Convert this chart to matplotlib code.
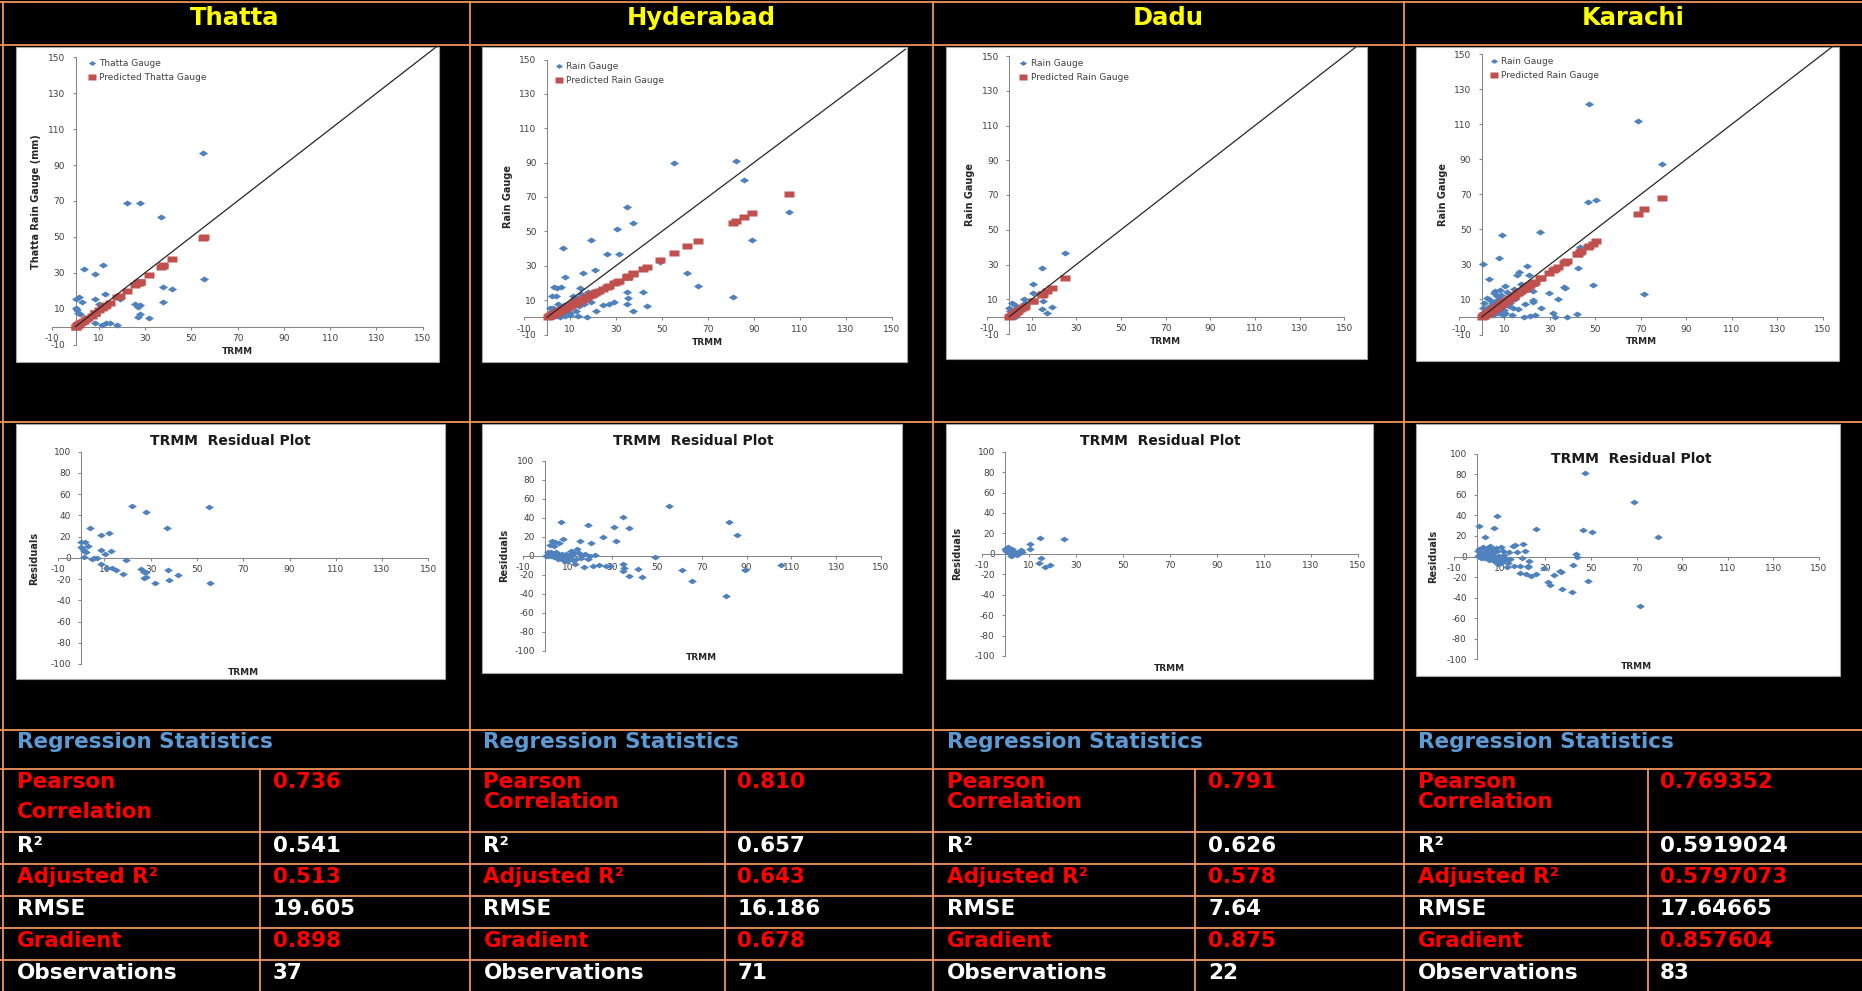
import matplotlib
matplotlib.use('Agg')
import matplotlib.pyplot as plt
from matplotlib.lines import Line2D
from matplotlib.patches import Rectangle

plt.rcParams['font.family'] = 'DejaVu Sans'
plt.rcParams['axes.unicode_minus'] = False

# ---- data ----
stations = ['Thatta', 'Hyderabad', 'Dadu', 'Karachi']
gauge_names = ['Thatta Gauge', 'Rain Gauge', 'Rain Gauge', 'Rain Gauge']
ylabels = ['Thatta Rain Gauge (mm)', 'Rain Gauge', 'Rain Gauge', 'Rain Gauge']

trmm_thatta = [55.0, 22.1, 27.9, 36.9, 3.7, 12.0, 8.6, 55.5, 37.6, 41.7, 12.7, 0.0, 1.4, 8.4, 2.7,
               38.0, 25.7, 27.9, 27.2, 0.0, 0.8, 1.2, 2.0, 27.9, 27.2, 31.9, 8.6, 11.3, 13.2, 14.9,
               18.1, 19.3, 10.2, 1.2, 4.5, 6.9, 5.5]
gauge_thatta = [96.9, 68.9, 68.7, 60.9, 31.9, 34.2, 29.3, 26.4, 21.9, 21.2, 18.2, 15.2, 16.3, 15.2, 13.7,
                13.7, 12.4, 11.9, 11.1, 10.6, 9.3, 7.8, 7.1, 7.1, 5.4, 4.8, 1.9, 0.9, 2.2, 1.9,
                1.1, 15.4, 12.5, 2.0, 3.0, 6.2, 5.0]

trmm_hyderabad = [55.3, 82.3, 85.7, 105.5, 89.2, 35.0, 37.6, 30.6, 19.3, 7.1, 26.0, 31.5, 20.7, 15.8, 61.1,
                  8.0, 3.0, 6.2, 4.5, 14.4, 65.7, 80.8, 49.0, 35.0, 35.3, 35.0, 41.6, 43.4, 37.3, 24.2,
                  27.1, 29.2, 21.3, 17.6, 2.2, 3.9, 11.5, 12.6, 10.0, 13.6, 5.7, 8.0, 1.3, 1.9, 2.5,
                  11.5, 19.3, 0.5, 1.0, 1.5, 2.8, 3.5, 4.2, 5.0, 6.0, 6.8, 7.5, 8.5, 9.2, 10.5,
                  12.0, 13.0, 14.0, 15.0, 16.5, 18.0, 20.0, 22.5, 16.0, 9.8, 4.8]
gauge_hyderabad = [90.0, 90.8, 79.9, 61.5, 45.0, 64.4, 55.1, 51.2, 45.0, 40.1, 36.8, 36.8, 27.5, 26.0, 26.0,
                   23.3, 17.8, 17.8, 17.1, 17.1, 18.2, 12.0, 32.0, 14.7, 11.4, 7.6, 14.7, 6.6, 3.7, 7.0,
                   8.0, 8.7, 3.9, 0.4, 12.4, 12.4, 12.4, 3.9, 1.4, 0.8, 0.4, 0.8, 5.2, 3.3, 5.2,
                   10.0, 9.2, 0.5, 1.5, 0.2, 2.0, 4.0, 1.0, 3.0, 5.5, 2.5, 7.0, 4.5, 8.0, 6.0,
                   8.5, 11.5, 6.5, 13.5, 12.0, 14.5, 13.0, 16.0, 8.0, 2.5, 7.5]

trmm_dadu = [25.1, 14.8, 10.6, 10.6, 15.2, 6.6, 19.1, 14.5, 17.0, 1.2, 0.3, 1.5, 2.0, 2.7, 2.6,
             3.5, 4.0, 5.0, 5.5, 7.0, 3.0, 0.0]
gauge_dadu = [36.8, 28.0, 18.8, 13.8, 9.2, 10.0, 5.8, 4.2, 2.3, 8.1, 3.0, 2.5, 4.0, 6.7, 0.0,
              1.5, 5.0, 3.5, 6.0, 8.0, 3.0, 4.8]

trmm_karachi = [47.4, 68.8, 79.5, 46.6, 50.4, 25.7, 8.8, 7.5, 0.7, 20.1, 16.6, 15.7, 21.0, 3.4, 43.3,
                43.7, 42.2, 48.8, 36.2, 36.7, 71.6, 29.5, 33.6, 22.7, 22.4, 22.4, 18.9, 26.0, 13.6, 16.1,
                13.3, 18.6, 21.3, 23.5, 31.2, 32.1, 37.4, 41.8, 10.4, 8.1, 0.4, 3.7, 5.4, 6.6, 8.8,
                10.4, 19.5, 11.8, 0.2, 0.8, 1.2, 1.5, 2.0, 2.3, 2.8, 3.0, 3.5, 4.0, 4.3, 4.8,
                5.0, 5.5, 6.0, 6.2, 6.8, 7.2, 7.5, 8.0, 8.5, 9.0, 9.5, 10.0, 10.8, 11.2, 12.0,
                12.5, 14.0, 14.5, 17.5, 1.0, 2.5, 5.8, 9.2]
gauge_karachi = [121.5, 111.9, 87.3, 65.6, 66.8, 48.5, 46.6, 33.9, 30.2, 29.3, 25.5, 23.8, 23.8, 21.5, 39.8,
                 36.7, 28.2, 18.1, 17.3, 16.5, 13.3, 13.9, 10.5, 15.0, 9.7, 8.8, 7.4, 4.9, 4.9, 4.4,
                 1.0, 0.2, 0.8, 1.3, 2.1, 0.2, 0.2, 1.7, 17.7, 15.4, 5.3, 9.7, 13.5, 12.0, 3.0,
                 2.5, 15.6, 11.6, 0.5, 1.5, 3.0, 0.3, 2.0, 5.0, 1.0, 3.5, 6.5, 2.5, 4.5, 8.0,
                 1.2, 5.5, 3.0, 9.0, 6.0, 2.0, 10.5, 7.0, 12.5, 5.5, 9.0, 4.0, 8.5, 14.5, 6.5,
                 8.0, 16.0, 10.0, 19.0, 8.0, 11.0, 15.0, 1.0]

trmm = [trmm_thatta, trmm_hyderabad, trmm_dadu, trmm_karachi]
gauge = [gauge_thatta, gauge_hyderabad, gauge_dadu, gauge_karachi]

# regression statistics table
pearson = ['0.736', '0.810', '0.791', '0.769352']
r_squared = ['0.541', '0.657', '0.626', '0.5919024']
adj_r_squared = ['0.513', '0.643', '0.578', '0.5797073']
rmse = ['19.605', '16.186', '7.64', '17.64665']
gradient = ['0.898', '0.678', '0.875', '0.857604']
observations = ['37', '71', '22', '83']

scatter_ticks = [-10, 10, 30, 50, 70, 90, 110, 130, 150]
resid_yticks = [-100, -80, -60, -40, -20, 0, 20, 40, 60, 80, 100]
one_to_one = [0, 156]

# ---- layout, in pixels of the 1862x991 picture ----
W, H = 1862, 991
col_left = [0, 470, 933, 1404]
col_centre = [235, 701.5, 1168.5, 1633]
label_x = [16.6, 483.4, 946.6, 1417.5]
value_x = [272.8, 737.2, 1208.2, 1660]
inner_x = [259.8, 724.8, 1195.2, 1647.6]

scatter_px = [(52.4, 422.7, 57.4, 344.6), (524.0, 891.7, 59.5, 334.5),
              (987.0, 1344.3, 56.0, 334.0), (1459.0, 1822.6, 54.2, 334.5)]
scatter_box = [(15.7, 46.7, 439.3, 362.3), (482.3, 46.7, 907.3, 362.3),
               (945.7, 46.7, 1367.3, 359.0), (1415.7, 46.7, 1839.3, 361.0)]
scatter_ylab = [(36, 201.7), (507.7, 196.7), (970, 195), (1442.7, 195)]
scatter_xlab = [(237.3, 351.7), (707.7, 342.3), (1165.7, 341), (1641.7, 341.7)]
legend_at = [(91.7, 64), (559, 67.3), (1023.3, 64), (1494, 62.3)]

resid_px = [(58.2, 428.3, 451.7, 664.0), (522.6, 881.0, 460.7, 650.7),
            (981.7, 1357.7, 451.7, 656.0), (1454.4, 1818.7, 453.7, 659.3)]
resid_box = [(15.7, 424, 445.3, 679), (482.3, 424, 902.3, 673.3),
             (945.7, 424, 1373.3, 679), (1415.7, 424, 1840, 675.7)]
resid_title = [(230.7, 441), (693, 440.7), (1160, 440.7), (1631.7, 459.3)]
resid_xlab = [(243.3, 672.7), (701.7, 657.3), (1169, 668.3), (1636.7, 666.7)]
resid_ylab = [(34.3, 558), (504.3, 555.7), (957.3, 553.3), (1433.3, 556.7)]

BLUE = '#4F81BD'
RED = '#C0504D'
GRID = '#F0955A'
AXIS = '#868686'
TICKTXT = '#404040'
narrow = ['Liberation Sans Narrow', 'DejaVu Sans']
diamond = [(-1, 0), (0, 0.66), (1, 0), (0, -0.66)]
square = [(-1, -0.72), (1, -0.72), (1, 0.72), (-1, 0.72)]


def fx(x):
    return x / W


def fy(y):
    return 1 - y / H


def line(x0, y0, x1, y1):
    fig.add_artist(Line2D([fx(x0), fx(x1)], [fy(y0), fy(y1)], color=GRID, lw=1.3,
                          transform=fig.transFigure))


def white_box(l, t, r, b):
    fig.add_artist(Rectangle((fx(l), fy(b)), (r - l) / W, (b - t) / H, facecolor='white',
                             edgecolor='#A6A6A6', lw=0.8, transform=fig.transFigure, zorder=-1))


def plot_axes(px, ylim, yticks):
    x0, x1, ytop, ybot = px
    ax = fig.add_axes([fx(x0), fy(ybot), (x1 - x0) / W, (ybot - ytop) / H])
    ax.set_facecolor('none')
    ax.set_xlim(-10, 150)
    ax.set_ylim(*ylim)
    for s in ['top', 'right']:
        ax.spines[s].set_visible(False)
    for s in ['left', 'bottom']:
        ax.spines[s].set_position(('data', 0))
        ax.spines[s].set_color(AXIS)
        ax.spines[s].set_linewidth(0.75)
    ax.set_xticks(scatter_ticks)
    ax.set_yticks(yticks)
    ax.tick_params(axis='both', length=2.5, width=0.75, color=AXIS, labelsize=6.5, labelcolor=TICKTXT)
    ax.tick_params(axis='y', pad=5)
    ax.tick_params(axis='x', pad=3)
    return ax


fig = plt.figure(figsize=(W / 100, H / 100), dpi=100, facecolor='black')

# grid of the slide
line(0, 2, W, 2)
line(3, 2, 3, H)
for y in [45, 422, 730, 768.5, 832, 864, 895.5, 927.5, 959.5]:
    line(0, y, W, y)
for x in col_left[1:]:
    line(x, 2, x, H)
for x in inner_x:
    line(x, 768.5, x, H)

for i in range(4):
    fig.text(fx(col_centre[i]), fy(18), stations[i], ha='center', va='center',
             fontsize=17.5, fontweight='bold', color='#FFFF00')

    # predicted gauge from the regression gradient shown in the table
    predicted = [float(gradient[i]) * v for v in trmm[i]]
    residuals = [g - p for g, p in zip(gauge[i], predicted)]

    # scatter of gauge against TRMM
    white_box(*scatter_box[i])
    ax = plot_axes(scatter_px[i], (-10, 150), scatter_ticks)
    ax.plot(trmm[i], gauge[i], ls='none', marker=diamond, ms=6.6, color=BLUE, mec='none',
            label=gauge_names[i], zorder=3)
    ax.plot(trmm[i], predicted, ls='none', marker=square, ms=7.0, color=RED, mec='none',
            label='Predicted ' + gauge_names[i], zorder=4)
    ax.plot(one_to_one, one_to_one, color='#262626', lw=0.9, clip_on=False, zorder=5)
    lx, ly = legend_at[i]
    ax.legend(loc='upper left', bbox_to_anchor=(fx(lx - 3.6), fy(ly - 5.3)),
              bbox_transform=fig.transFigure, frameon=False, fontsize=6.5, borderpad=0,
              borderaxespad=0, handlelength=0.8, handletextpad=0.4, labelspacing=0.6,
              labelcolor=TICKTXT, markerscale=0.8)
    fig.text(fx(scatter_xlab[i][0]), fy(scatter_xlab[i][1]), 'TRMM', ha='center', va='center',
             fontsize=6.5, fontweight='bold', color='#262626')
    fig.text(fx(scatter_ylab[i][0]), fy(scatter_ylab[i][1]), ylabels[i], ha='center', va='center',
             rotation=90, fontsize=7, fontweight='bold', family=narrow, color='#262626')

    # residual plot
    white_box(*resid_box[i])
    ax = plot_axes(resid_px[i], (-100, 100), resid_yticks)
    ax.plot(trmm[i], residuals, ls='none', marker=diamond, ms=6.3, color=BLUE, mec='none', zorder=3)
    fig.text(fx(resid_title[i][0]), fy(resid_title[i][1]), 'TRMM  Residual Plot', ha='center',
             va='center', fontsize=10, fontweight='bold', color='#1A1A1A')
    fig.text(fx(resid_xlab[i][0]), fy(resid_xlab[i][1]), 'TRMM', ha='center', va='center',
             fontsize=6.5, fontweight='bold', color='#262626')
    fig.text(fx(resid_ylab[i][0]), fy(resid_ylab[i][1]), 'Residuals', ha='center', va='center',
             rotation=90, fontsize=7, fontweight='bold', family=narrow, color='#262626')

    # regression statistics
    tk = dict(va='center', fontsize=15.5, fontweight='bold')
    fig.text(fx(label_x[i]), fy(742.5), 'Regression Statistics', color='#5B9BD5', **tk)
    fig.text(fx(label_x[i]), fy(781.5), 'Pearson', color='#FF0000', **tk)
    fig.text(fx(label_x[i]), fy(812 if i == 0 else 801.7), 'Correlation', color='#FF0000', **tk)
    fig.text(fx(value_x[i]), fy(781.5), pearson[i], color='#FF0000', **tk)
    rows = [('R²', r_squared[i], 'white', 845.5),
            ('Adjusted R²', adj_r_squared[i], '#FF0000', 877),
            ('RMSE', rmse[i], 'white', 909.3),
            ('Gradient', gradient[i], '#FF0000', 940.8),
            ('Observations', observations[i], 'white', 973)]
    for name, val, c, y in rows:
        fig.text(fx(label_x[i]), fy(y), name, color=c, **tk)
        fig.text(fx(value_x[i]), fy(y), val, color=c, **tk)

fig.savefig('out.png', dpi=100, facecolor='black')
